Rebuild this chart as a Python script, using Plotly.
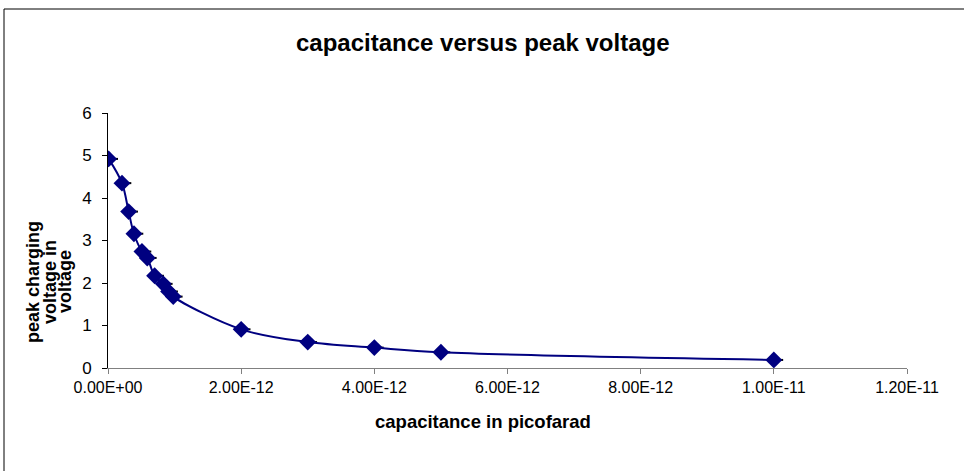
import plotly.graph_objects as go

# ---- data ----
capacitance_F = [1e-14, 2.1e-13, 3.1e-13, 3.9e-13, 5.1e-13, 5.9e-13, 7.0e-13,
                 8.3e-13, 9.1e-13, 9.8e-13, 2e-12, 3e-12, 4e-12, 5e-12, 1e-11]
peak_voltage = [4.92, 4.35, 3.68, 3.16, 2.74, 2.59, 2.17,
                1.98, 1.80, 1.68, 0.91, 0.61, 0.48, 0.37, 0.19]
x_error_plus = [1.4e-13] * len(capacitance_F)

x_tick_vals = [0, 2e-12, 4e-12, 6e-12, 8e-12, 1e-11, 1.2e-11]
x_tick_labels = ["0.00E+00", "2.00E-12", "4.00E-12", "6.00E-12", "8.00E-12", "1.00E-11", "1.20E-11"]
y_tick_vals = [0, 1, 2, 3, 4, 5, 6]

title_text = "capacitance versus peak voltage"
x_title = "capacitance in picofarad"
y_title_lines = ["peak charging", "voltage in", "voltage"]

# ---- layout geometry (pixels) ----
W, H = 964, 471
L, R, T, B = 108, 57, 113, 103
PW, PH = W - L - R, H - T - B

def px_x(p):
    return (p - L) / PW

def px_y(p):
    return (H - B - p) / PH

FONT = "Liberation Sans, Arial, sans-serif"

fig = go.Figure()
fig.add_trace(go.Scatter(
    x=capacitance_F, y=peak_voltage, mode="lines+markers",
    line=dict(color="#000080", width=2, shape="spline"),
    marker=dict(symbol="diamond", size=13, color="#000080"),
    error_x=dict(type="data", symmetric=False, array=x_error_plus,
                 arrayminus=[0] * len(capacitance_F),
                 color="black", thickness=2, width=0),
    showlegend=False,
))

fig.update_layout(
    width=W, height=H,
    margin=dict(l=L, r=R, t=T, b=B),
    paper_bgcolor="white", plot_bgcolor="white",
    font=dict(family=FONT, color="black", size=16),
    xaxis=dict(range=[0, 1.2e-11], tickvals=x_tick_vals, ticktext=x_tick_labels,
               showgrid=False, zeroline=False, showline=True, linecolor="#808080",
               linewidth=1, ticks="outside", ticklen=5, tickcolor="#808080",
               tickfont=dict(size=16), fixedrange=True),
    yaxis=dict(range=[0, 6], tickvals=y_tick_vals, showgrid=False, zeroline=False,
               showline=True, linecolor="black", linewidth=1, ticks="outside",
               ticklen=5, tickcolor="black", tickfont=dict(size=17), fixedrange=True,
               ticklabelstandoff=7),
)

annotations = [
    dict(text="<b>%s</b>" % title_text, x=px_x(483), y=px_y(42), xref="paper", yref="paper",
         showarrow=False, xanchor="center", yanchor="middle", font=dict(size=24)),
    dict(text="<b>%s</b>" % x_title, x=px_x(483), y=px_y(421), xref="paper", yref="paper",
         showarrow=False, xanchor="center", yanchor="middle", font=dict(size=18.5)),
]
for xp, line in zip([33, 50, 65], y_title_lines):
    annotations.append(dict(text="<b>%s</b>" % line, x=px_x(xp), y=px_y(282),
                            xref="paper", yref="paper", showarrow=False, textangle=-90,
                            xanchor="center", yanchor="middle", font=dict(size=18)))
fig.update_layout(annotations=annotations)

# outer chart frame (top and left edges visible)
fig.add_shape(type="rect", xref="paper", yref="paper",
              x0=px_x(4), x1=px_x(1000), y0=px_y(520), y1=px_y(9),
              line=dict(color="black", width=1), fillcolor="rgba(0,0,0,0)", layer="above")

fig.write_html("out.html", config={"displayModeBar": False},
               post_script="document.body.style.margin='0';document.body.style.overflow='hidden';")
